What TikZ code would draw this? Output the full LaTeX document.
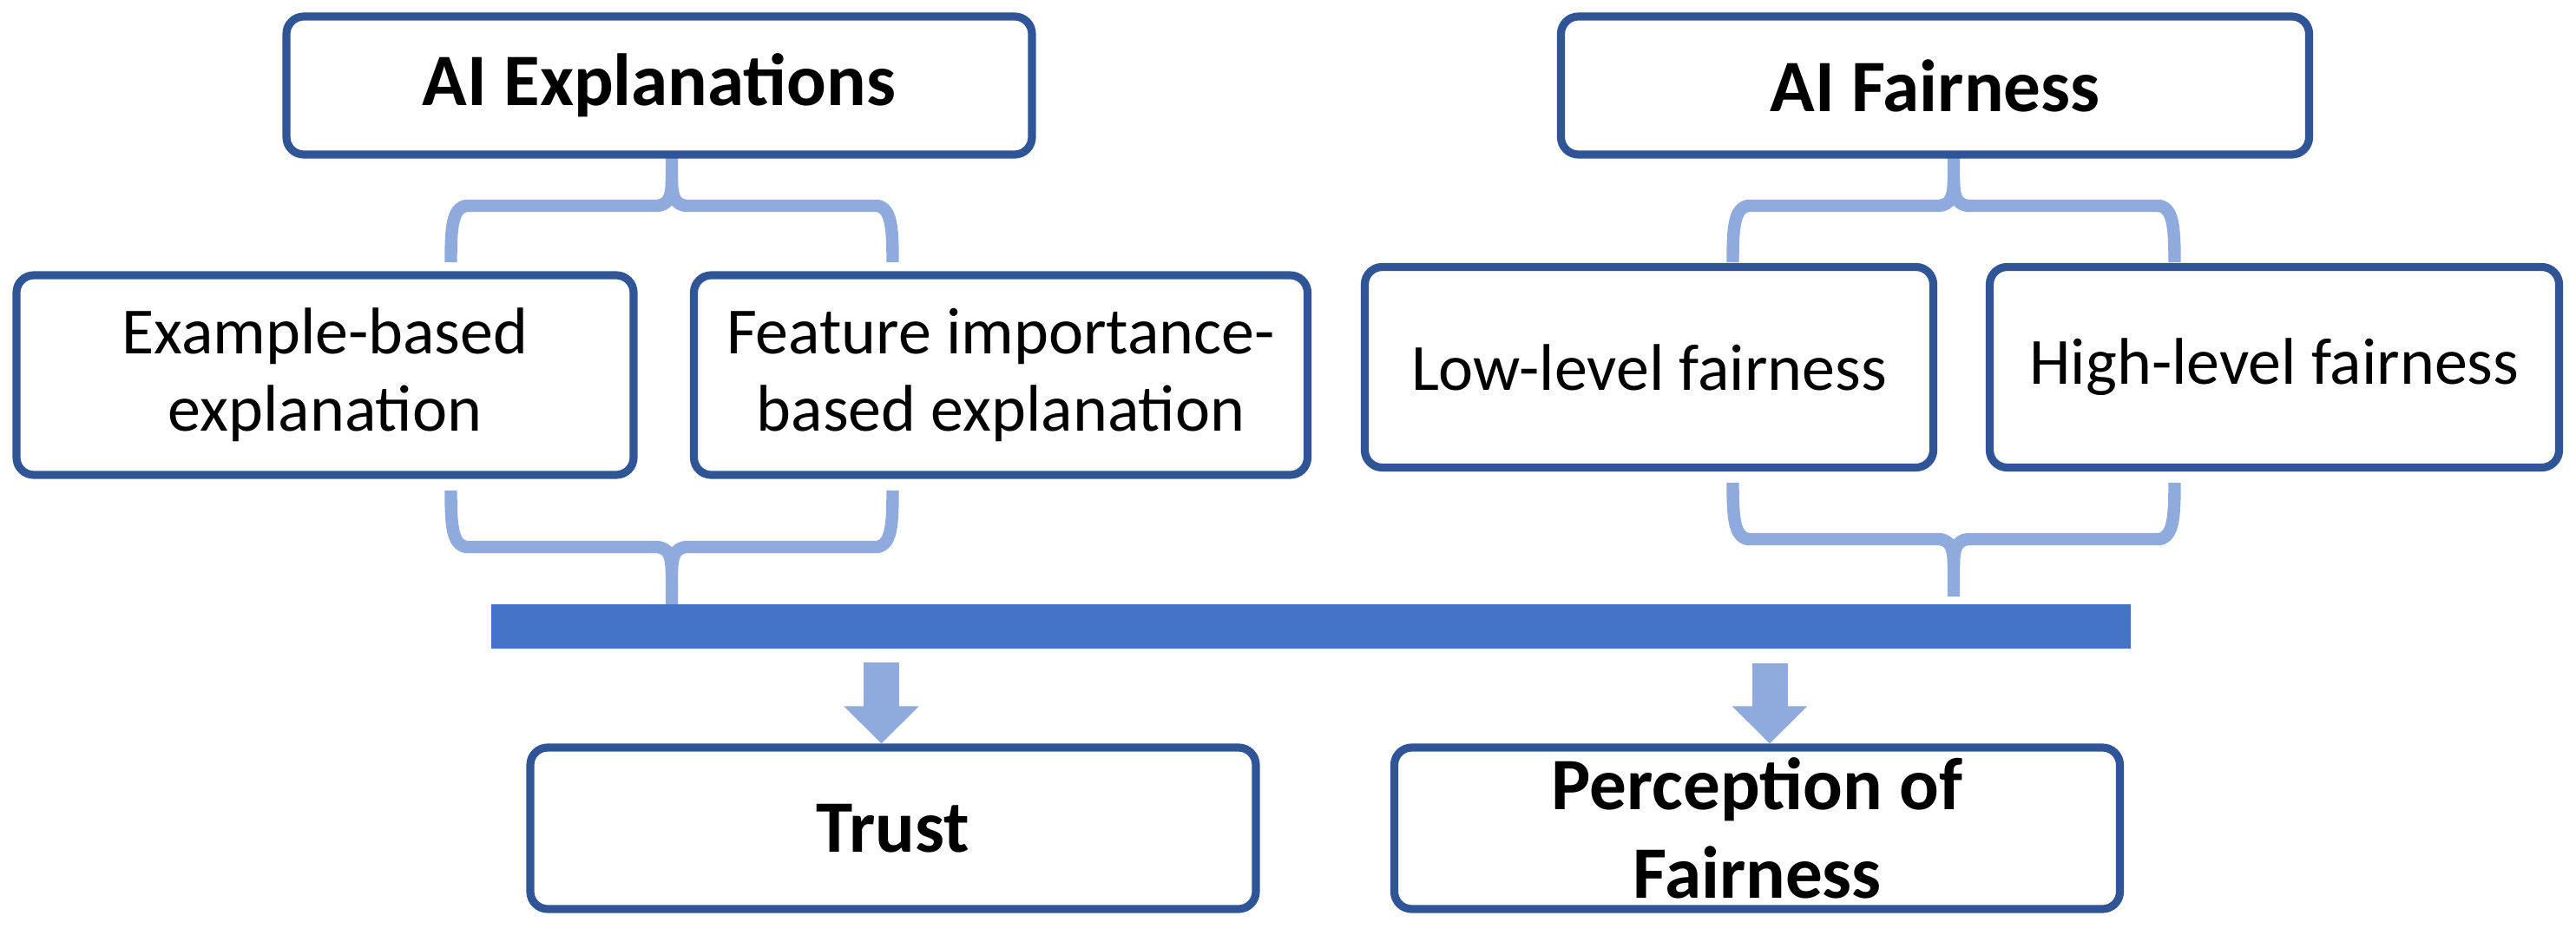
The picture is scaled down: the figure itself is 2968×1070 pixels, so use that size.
\documentclass[tikz,border=0pt]{standalone}
\usepackage{fontspec}
\setmainfont{Carlito}
\usetikzlibrary{arrows.meta,backgrounds}
\definecolor{boxblue}{HTML}{2F5597}
\definecolor{lightblue}{HTML}{8FAADC}
\definecolor{barblue}{HTML}{4472C4}
\tikzset{
  box/.style={draw=boxblue, line width=2.3pt, rounded corners=5pt, fill=white, inner sep=0pt, align=center, text=black},
  titlefont/.style={font=\fontsize{21.3}{25.5}\selectfont\bfseries},
  bodyfont/.style={font=\fontsize{19}{22.25}\selectfont},
  bracepath/.style={draw=lightblue, line width=3.6pt},
  bigarrow/.style={draw=lightblue, line width=10.25pt, -{Triangle[width=21pt,length=10.75pt]}},
  curlybrace/.pic={
    \draw[bracepath] (-254.5,65) .. controls (-254.5,25) and (-253,3) .. (-237,0) -- (-16,0) .. controls (-4,-2) and (0,-9) .. (0,-32) -- (0,-66);
    \draw[bracepath] (0,-32) .. controls (0,-9) and (4,-2) .. (16,0) -- (237,0) .. controls (253,3) and (254.5,25) .. (254.5,65);
  }
}
\begin{document}
\begin{tikzpicture}[x=0.25pt,y=-0.25pt]
\useasboundingbox (0,0) rectangle (2968,1070);

\node[box, titlefont, minimum width=214.75pt, minimum height=39.75pt] (aie) at (759.5,98.5) {AI Explanations};
\node[box, titlefont, minimum width=215.5pt, minimum height=39.75pt] (aif) at (2229.5,98.5) {AI Fairness};
\node[box, bodyfont, minimum width=177.75pt, minimum height=57.5pt] (ex) at (374.5,432) {Example-based\\explanation};
\node[box, bodyfont, minimum width=176.75pt, minimum height=57.5pt] (feat) at (1153,432) {Feature importance-\\based explanation};
\node[box, bodyfont, minimum width=163.75pt, minimum height=57.75pt] (low) at (1900,423) {Low-level fairness};
\node[box, bodyfont, minimum width=164pt, minimum height=57.75pt] (high) at (2620.5,423) {High-level fairness};
\node[fill=barblue, inner sep=0pt, minimum width=472.25pt, minimum height=12.75pt] (bar) at (1510.5,721.5) {};
\node[box, titlefont, minimum width=209pt, minimum height=46.5pt] (trust) at (1029,954) {Trust};
\node[box, titlefont, minimum width=209pt, minimum height=46.5pt] (perc) at (2024.5,954) {Perception of\\Fairness};

\begin{scope}[on background layer]
  \pic at (774,237) {curlybrace};
  \pic at (2251,237) {curlybrace};
  \pic[yscale=-1] at (774,630) {curlybrace};
  \pic[yscale=-1] at (2251,621) {curlybrace};
\end{scope}

\coordinate (a1) at (1015.5,763);
\coordinate (a2) at (2039,764);
\draw[bigarrow] (a1) -- (a1 |- trust.north);
\draw[bigarrow] (a2) -- (a2 |- perc.north);
\end{tikzpicture}
\end{document}
